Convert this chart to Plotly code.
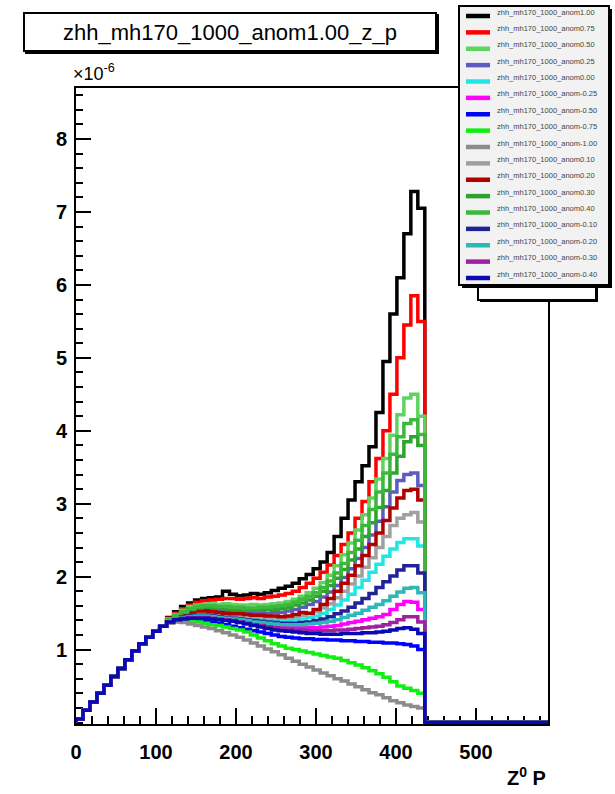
import numpy as np
import plotly.graph_objects as go

# ---------------- data (y in units of 1e-6) ----------------
title_text = "zhh_mh170_1000_anom1.00_z_p"
x_title = "Z<sup>0</sup> P"
y_exponent = "×10<sup>-6</sup>"

bin_width = 8.72          # GeV per bin
x_range = [0, 590]
y_range = [-0.02, 8.7]
y_tick_values = [1, 2, 3, 4, 5, 6, 7, 8]

# first 13 bins: identical for every sample
rise_common = [0.05, 0.17, 0.28, 0.40, 0.51, 0.63, 0.74, 0.86, 0.98, 1.08, 1.17, 1.25, 1.32]
# bins above the kinematic limit (~436 GeV) are empty
tail_empty = [0.0] * 18

anom_p100 = [1.44, 1.52, 1.59, 1.64, 1.68, 1.70, 1.71, 1.72, 1.80, 1.76, 1.74, 1.75, 1.77, 1.76, 1.78, 1.81, 1.84, 1.87, 1.91, 1.97,
             2.03, 2.11, 2.20, 2.33, 2.55, 2.80, 3.05, 3.30, 3.52, 3.78, 4.25, 4.95, 5.60, 6.10, 6.70, 7.28, 7.05]
anom_p075 = [1.43, 1.50, 1.56, 1.61, 1.65, 1.67, 1.68, 1.69, 1.70, 1.70, 1.69, 1.70, 1.71, 1.70, 1.72, 1.73, 1.75, 1.77, 1.80, 1.85,
             1.91, 1.98, 2.06, 2.16, 2.29, 2.44, 2.60, 2.80, 3.03, 3.30, 3.62, 4.00, 4.50, 5.00, 5.45, 5.85, 5.50]
anom_p050 = [1.42, 1.48, 1.54, 1.59, 1.61, 1.62, 1.63, 1.62, 1.63, 1.62, 1.61, 1.61, 1.62, 1.61, 1.62, 1.63, 1.64, 1.66, 1.69, 1.73,
             1.78, 1.84, 1.92, 2.02, 2.15, 2.30, 2.46, 2.64, 2.85, 3.08, 3.34, 3.62, 3.94, 4.22, 4.45, 4.50, 4.20]
anom_p025 = [1.40, 1.45, 1.50, 1.53, 1.55, 1.55, 1.55, 1.54, 1.53, 1.52, 1.52, 1.51, 1.51, 1.50, 1.50, 1.51, 1.51, 1.53, 1.55, 1.58,
             1.62, 1.66, 1.72, 1.79, 1.88, 1.99, 2.11, 2.25, 2.40, 2.57, 2.76, 2.96, 3.16, 3.32, 3.40, 3.42, 3.25]
anom_p000 = [1.38, 1.42, 1.45, 1.47, 1.48, 1.48, 1.47, 1.46, 1.45, 1.45, 1.44, 1.43, 1.42, 1.41, 1.41, 1.40, 1.40, 1.40, 1.41, 1.42,
             1.44, 1.46, 1.50, 1.55, 1.61, 1.68, 1.76, 1.85, 1.95, 2.06, 2.17, 2.28, 2.38, 2.47, 2.52, 2.52, 2.42]
anom_m025 = [1.38, 1.41, 1.43, 1.44, 1.45, 1.45, 1.44, 1.43, 1.42, 1.41, 1.40, 1.38, 1.36, 1.35, 1.33, 1.32, 1.31, 1.30, 1.30, 1.30,
             1.30, 1.30, 1.31, 1.32, 1.33, 1.35, 1.37, 1.39, 1.41, 1.43, 1.45, 1.48, 1.55, 1.62, 1.66, 1.65, 1.55]
anom_m050 = [1.38, 1.40, 1.41, 1.41, 1.40, 1.39, 1.38, 1.36, 1.34, 1.32, 1.30, 1.28, 1.26, 1.24, 1.22, 1.20, 1.18, 1.17, 1.16, 1.15,
             1.15, 1.14, 1.14, 1.13, 1.13, 1.12, 1.12, 1.11, 1.11, 1.10, 1.10, 1.09, 1.09, 1.08, 1.07, 1.05, 1.00]
anom_m075 = [1.37, 1.39, 1.40, 1.39, 1.38, 1.36, 1.34, 1.33, 1.31, 1.29, 1.27, 1.24, 1.20, 1.16, 1.12, 1.08, 1.05, 1.02, 1.00, 0.98,
             0.96, 0.94, 0.92, 0.90, 0.88, 0.85, 0.82, 0.79, 0.75, 0.71, 0.67, 0.62, 0.56, 0.50, 0.47, 0.44, 0.40]
anom_m100 = [1.36, 1.38, 1.37, 1.35, 1.33, 1.31, 1.29, 1.26, 1.23, 1.20, 1.17, 1.13, 1.09, 1.05, 1.01, 0.97, 0.93, 0.88, 0.84, 0.80,
             0.76, 0.72, 0.68, 0.64, 0.60, 0.57, 0.53, 0.49, 0.45, 0.41, 0.38, 0.34, 0.30, 0.27, 0.24, 0.22, 0.20]
anom_p010 = [1.39, 1.43, 1.47, 1.49, 1.50, 1.50, 1.49, 1.48, 1.47, 1.47, 1.46, 1.46, 1.45, 1.45, 1.44, 1.44, 1.44, 1.44, 1.45, 1.47,
             1.49, 1.52, 1.57, 1.63, 1.71, 1.80, 1.90, 2.01, 2.13, 2.26, 2.40, 2.55, 2.70, 2.80, 2.85, 2.88, 2.75]
anom_p020 = [1.39, 1.44, 1.48, 1.51, 1.53, 1.53, 1.52, 1.51, 1.50, 1.49, 1.49, 1.48, 1.47, 1.47, 1.46, 1.46, 1.45, 1.46, 1.48, 1.51,
             1.50, 1.55, 1.62, 1.70, 1.80, 1.91, 2.02, 2.15, 2.29, 2.44, 2.60, 2.77, 2.94, 3.08, 3.18, 3.20, 3.05]
anom_p030 = [1.40, 1.46, 1.51, 1.55, 1.57, 1.58, 1.58, 1.57, 1.56, 1.55, 1.55, 1.54, 1.54, 1.54, 1.55, 1.55, 1.56, 1.58, 1.61, 1.64,
             1.68, 1.73, 1.80, 1.88, 1.98, 2.10, 2.23, 2.38, 2.55, 2.74, 2.95, 3.18, 3.42, 3.65, 3.85, 3.92, 3.80]
anom_p040 = [1.41, 1.47, 1.52, 1.56, 1.59, 1.60, 1.60, 1.59, 1.59, 1.58, 1.58, 1.57, 1.57, 1.58, 1.58, 1.59, 1.60, 1.62, 1.65, 1.69,
             1.73, 1.78, 1.85, 1.94, 2.05, 2.18, 2.33, 2.50, 2.70, 2.92, 3.16, 3.42, 3.68, 3.92, 4.10, 4.15, 3.95]
anom_m010 = [1.38, 1.42, 1.45, 1.46, 1.47, 1.47, 1.46, 1.45, 1.44, 1.43, 1.42, 1.41, 1.40, 1.39, 1.38, 1.37, 1.36, 1.36, 1.36, 1.37,
             1.38, 1.40, 1.42, 1.45, 1.49, 1.53, 1.58, 1.64, 1.70, 1.77, 1.85, 1.93, 2.01, 2.09, 2.15, 2.15, 2.05]
anom_m020 = [1.38, 1.42, 1.44, 1.45, 1.46, 1.46, 1.45, 1.44, 1.43, 1.42, 1.41, 1.40, 1.38, 1.37, 1.36, 1.35, 1.34, 1.34, 1.34, 1.34,
             1.35, 1.36, 1.37, 1.39, 1.41, 1.44, 1.47, 1.50, 1.54, 1.58, 1.62, 1.67, 1.73, 1.79, 1.84, 1.85, 1.78]
anom_m030 = [1.38, 1.41, 1.43, 1.44, 1.44, 1.44, 1.43, 1.42, 1.41, 1.40, 1.38, 1.36, 1.34, 1.33, 1.31, 1.30, 1.29, 1.28, 1.27, 1.27,
             1.26, 1.26, 1.26, 1.26, 1.27, 1.27, 1.28, 1.29, 1.30, 1.31, 1.32, 1.34, 1.37, 1.41, 1.45, 1.45, 1.38]
anom_m040 = [1.38, 1.41, 1.42, 1.43, 1.43, 1.43, 1.42, 1.41, 1.40, 1.39, 1.37, 1.35, 1.33, 1.31, 1.29, 1.27, 1.26, 1.25, 1.24, 1.23,
             1.22, 1.22, 1.21, 1.21, 1.21, 1.22, 1.22, 1.22, 1.23, 1.23, 1.24, 1.25, 1.27, 1.29, 1.30, 1.28, 1.22]

series_labels = [
    "zhh_mh170_1000_anom1.00", "zhh_mh170_1000_anom0.75", "zhh_mh170_1000_anom0.50",
    "zhh_mh170_1000_anom0.25", "zhh_mh170_1000_anom0.00", "zhh_mh170_1000_anom-0.25",
    "zhh_mh170_1000_anom-0.50", "zhh_mh170_1000_anom-0.75", "zhh_mh170_1000_anom-1.00",
    "zhh_mh170_1000_anom0.10", "zhh_mh170_1000_anom0.20", "zhh_mh170_1000_anom0.30",
    "zhh_mh170_1000_anom0.40", "zhh_mh170_1000_anom-0.10", "zhh_mh170_1000_anom-0.20",
    "zhh_mh170_1000_anom-0.30", "zhh_mh170_1000_anom-0.40",
]
series_values = [anom_p100, anom_p075, anom_p050, anom_p025, anom_p000, anom_m025, anom_m050,
                 anom_m075, anom_m100, anom_p010, anom_p020, anom_p030, anom_p040,
                 anom_m010, anom_m020, anom_m030, anom_m040]
series_colors = ["#000000", "#ff0000", "#5fd35f", "#5c5cc0", "#22e5e5", "#ff00ff", "#0000ff",
                 "#11ee11", "#8c8c8c", "#a0a0a0", "#b00000", "#2ea32e", "#3cb83c",
                 "#222299", "#2db8b8", "#a020a0", "#0a0ab4"]

# ---------------- layout geometry (pixels) ----------------
W, H = 615, 794
PL, PR, PT, PB = 76, 548, 88, 724
FONT = "Liberation Sans"


def px_x(p):
    return (p - PL) / (PR - PL)


def px_y(p):
    return (PB - p) / (PB - PT)


fig = go.Figure()

for label, vals, col in zip(series_labels, series_values, series_colors):
    contents = rise_common + vals + tail_empty
    edges = np.arange(len(contents) + 1) * bin_width
    xs = np.concatenate([[0.0], edges])
    ys = [0.0] + contents + [contents[-1]]
    fig.add_trace(go.Scatter(x=xs, y=ys, mode="lines", name=label,
                             line=dict(color=col, width=3.5, shape="hv"),
                             showlegend=False, hoverinfo="skip"))

axis_common = dict(showline=True, linewidth=2, linecolor="black", mirror=True,
                   ticks="inside", tickwidth=2, tickcolor="black",
                   showgrid=False, zeroline=False, layer="below traces",
                   tickfont=dict(family=FONT, size=20, color="black", weight="bold"))

fig.update_xaxes(range=x_range, tick0=0, dtick=100, ticklen=16, ticklabelstandoff=9,
                 minor=dict(ticks="inside", ticklen=8, tickwidth=2, tickcolor="black",
                            tick0=0, dtick=20, showgrid=False),
                 **axis_common)
fig.update_yaxes(range=y_range, tickmode="array", tickvals=y_tick_values,
                 ticktext=[str(v) for v in y_tick_values], ticklen=15, ticklabelstandoff=3,
                 minor=dict(ticks="inside", ticklen=7, tickwidth=2, tickcolor="black",
                            tickmode="linear", tick0=0, dtick=0.2, showgrid=False),
                 **axis_common)

shapes = []
annotations = []

# title box (with shadow)
shapes.append(dict(type="rect", xref="paper", yref="paper", layer="above",
                   x0=px_x(25), x1=px_x(439), y0=px_y(54), y1=px_y(14),
                   fillcolor="black", line=dict(width=0)))
annotations.append(dict(xref="paper", yref="paper", x=px_x(230), y=px_y(32),
                        xanchor="center", yanchor="middle", showarrow=False,
                        text=title_text, font=dict(family=FONT, size=22, color="black"),
                        bgcolor="white", bordercolor="black", borderwidth=2, borderpad=1,
                        width=408, height=34))

# small box behind the legend
shapes.append(dict(type="rect", xref="paper", yref="paper", layer="above",
                   x0=px_x(480), x1=px_x(598), y0=px_y(302), y1=px_y(270),
                   fillcolor="black", line=dict(width=0)))
shapes.append(dict(type="rect", xref="paper", yref="paper", layer="above",
                   x0=px_x(478), x1=px_x(596), y0=px_y(300), y1=px_y(268),
                   fillcolor="white", line=dict(color="black", width=2)))

# legend box (with shadow)
shapes.append(dict(type="rect", xref="paper", yref="paper", layer="above",
                   x0=px_x(462), x1=px_x(612), y0=px_y(288), y1=px_y(9),
                   fillcolor="black", line=dict(width=0)))
shapes.append(dict(type="rect", xref="paper", yref="paper", layer="above",
                   x0=px_x(459), x1=px_x(609), y0=px_y(285), y1=px_y(6),
                   fillcolor="#f2f2f2", line=dict(color="black", width=2)))

for i, (label, col) in enumerate(zip(series_labels, series_colors)):
    yy = 16 + 16.375 * i
    shapes.append(dict(type="line", xref="paper", yref="paper", layer="above",
                       x0=px_x(466), x1=px_x(490), y0=px_y(yy), y1=px_y(yy),
                       line=dict(color=col, width=4.5)))
    annotations.append(dict(xref="paper", yref="paper", x=px_x(495), y=px_y(yy - 4),
                            xanchor="left", yanchor="middle", showarrow=False,
                            text=label, font=dict(family=FONT, size=7.5, color="#444444")))

# axis exponent and axis title
annotations.append(dict(xref="paper", yref="paper", x=px_x(71), y=px_y(73),
                        xanchor="left", yanchor="middle", showarrow=False,
                        text=y_exponent, font=dict(family=FONT, size=18, color="black")))
annotations.append(dict(xref="paper", yref="paper", x=px_x(548), y=px_y(776),
                        xanchor="right", yanchor="middle", showarrow=False,
                        text=x_title, font=dict(family=FONT, size=20, color="black", weight="bold")))

fig.update_layout(width=W, height=H, margin=dict(l=PL, r=W - PR, t=PT, b=H - PB, pad=0),
                  paper_bgcolor="white", plot_bgcolor="white", showlegend=False,
                  shapes=shapes, annotations=annotations)

fig.write_html("out.html")
